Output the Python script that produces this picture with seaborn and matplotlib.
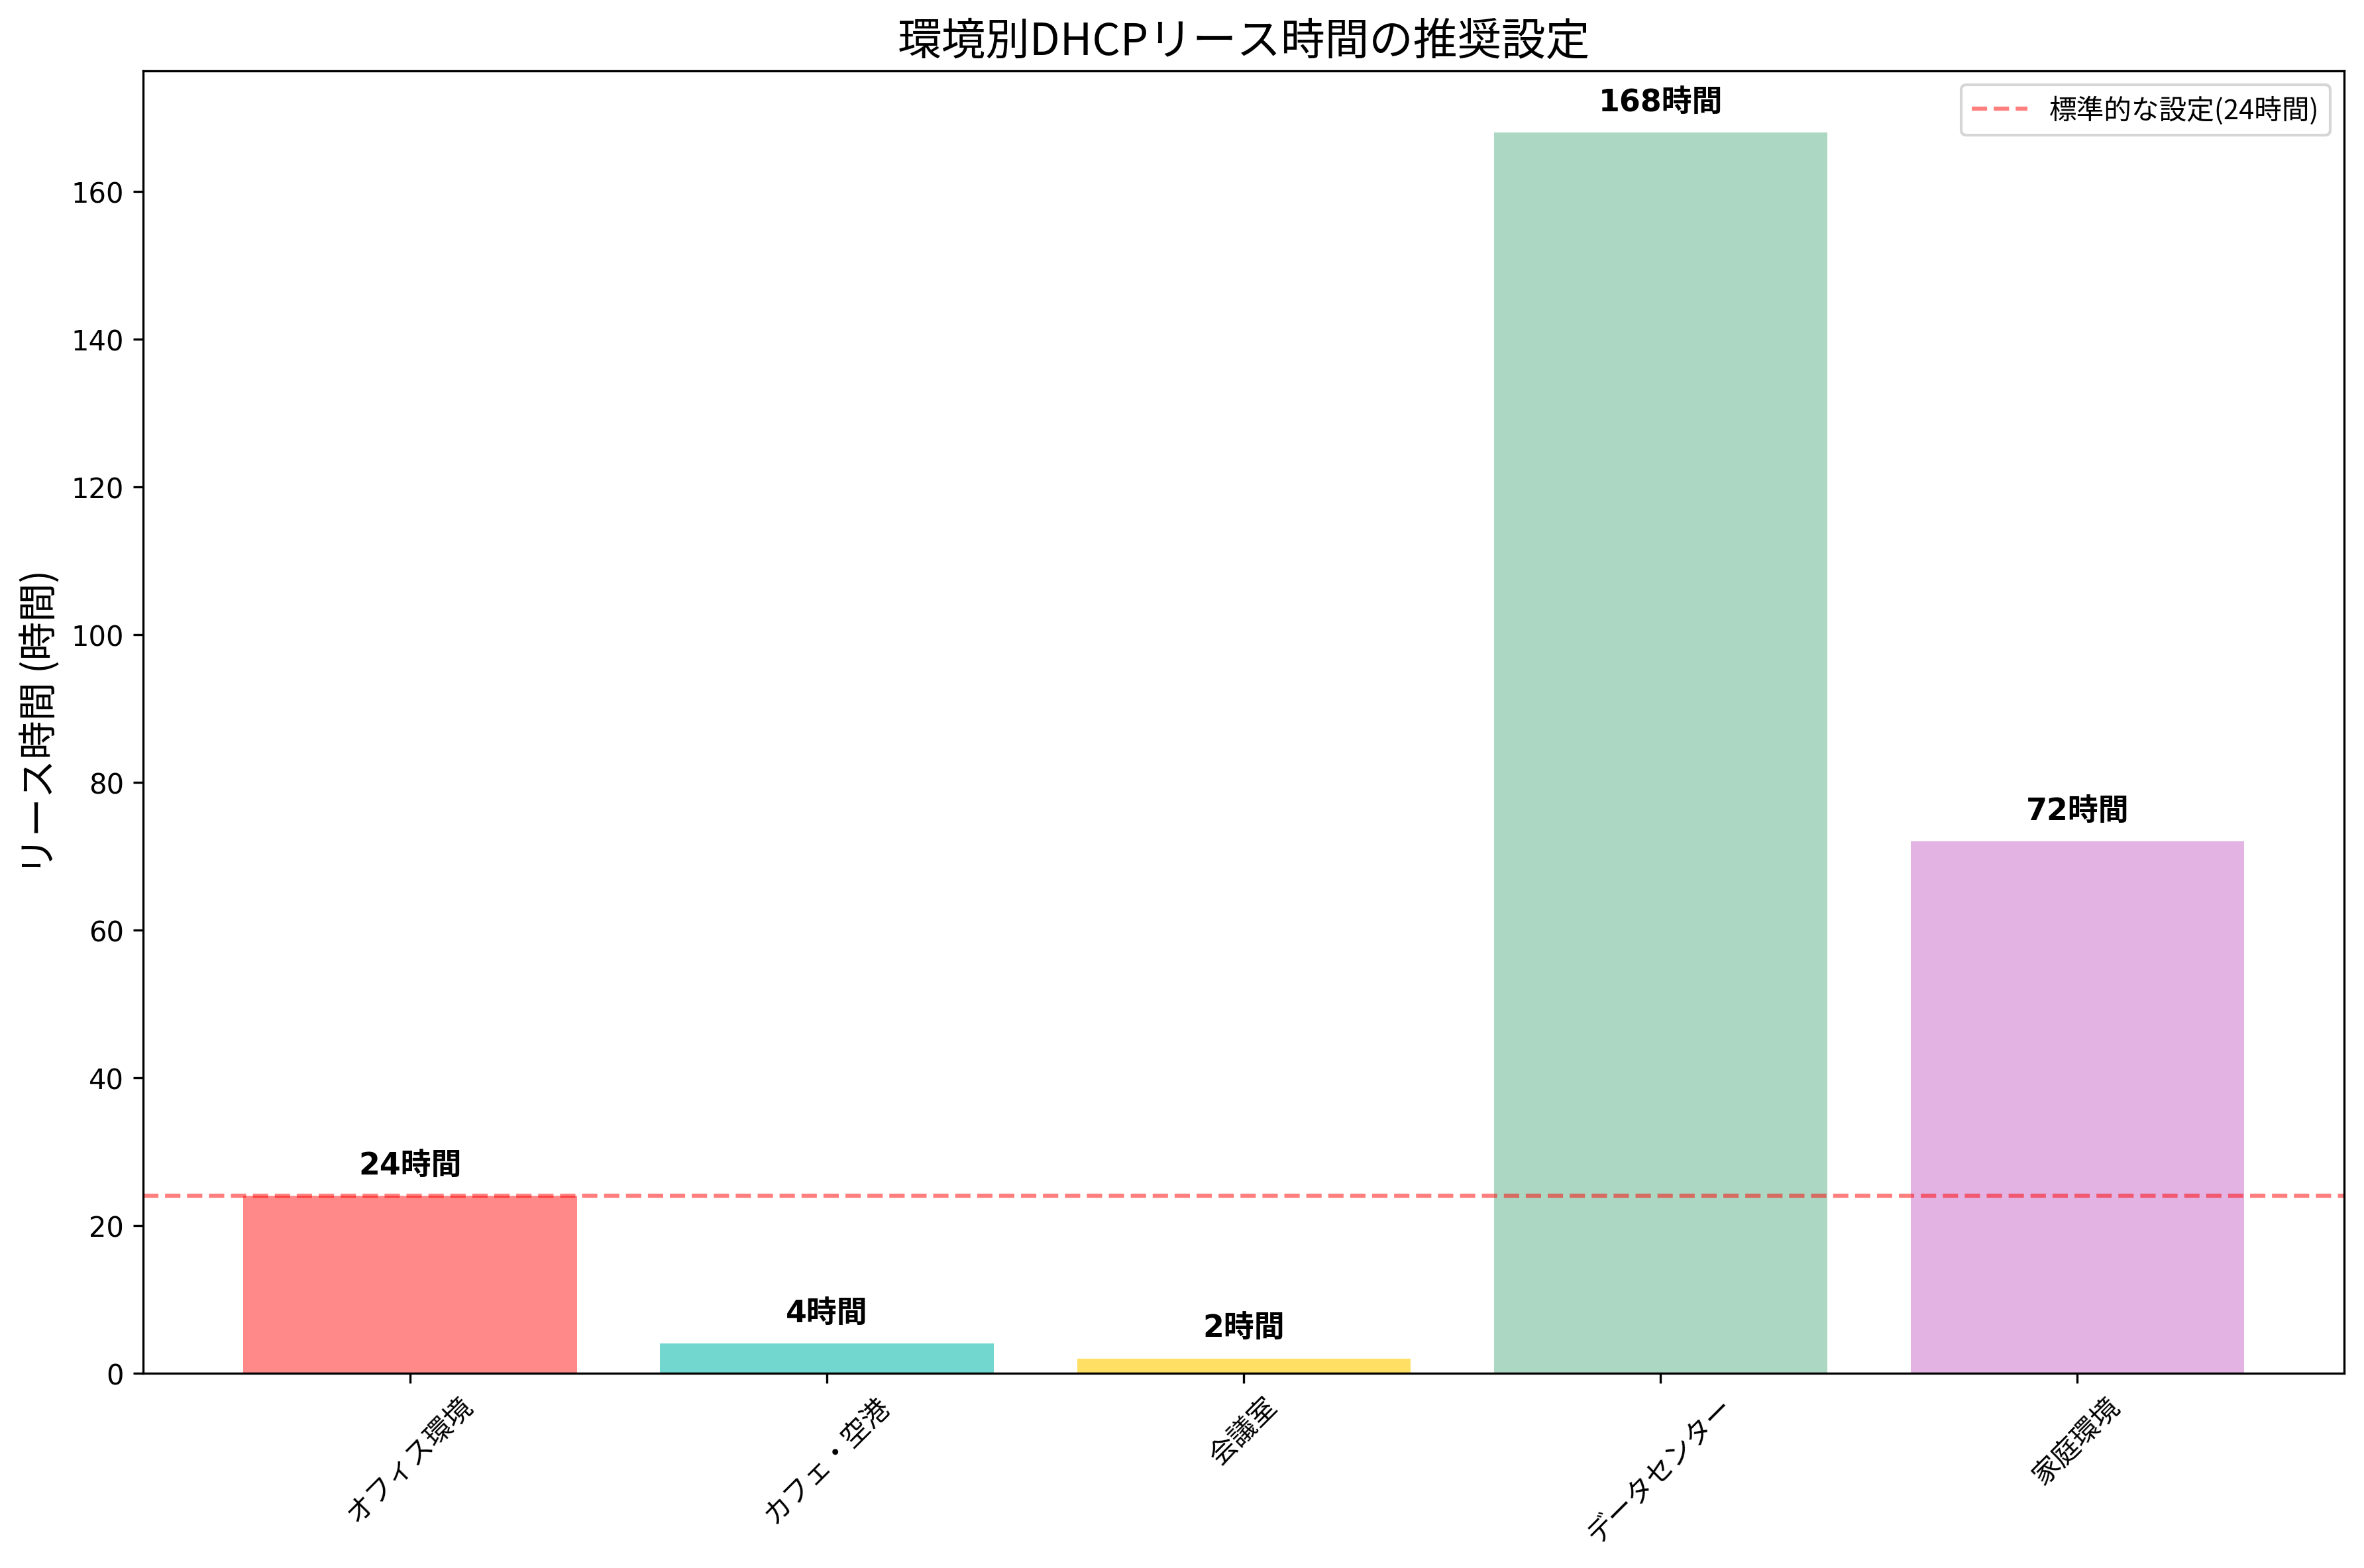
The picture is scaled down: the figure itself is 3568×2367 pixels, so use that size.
"""
環境別DHCPリース時間の推奨設定 - 棒グラフ
"""

import matplotlib
matplotlib.use('Agg')
import matplotlib.pyplot as plt
import seaborn as sns
import pandas as pd

# データ
environments = ['オフィス環境', 'カフェ・空港', '会議室', 'データセンター', '家庭環境']
lease_hours = [24, 4, 2, 168, 72]
bar_colors = ['#FF6B6B', '#4ECDC4', '#FFD93D', '#96CEB4', '#DDA0DD']
standard_hours = 24

JP = ['Noto Sans CJK JP', 'DejaVu Sans']
MIXED = ['DejaVu Sans', 'Noto Sans CJK JP']

plt.rcParams['font.family'] = MIXED

df = pd.DataFrame({'環境': environments, 'リース時間': lease_hours})

fig, ax = plt.subplots(figsize=(12, 8))

sns.barplot(data=df, x='環境', y='リース時間', hue='環境',
            palette=bar_colors, saturation=1, alpha=0.8, width=0.8,
            legend=False, ax=ax)

# 値ラベル
for i, h in enumerate(lease_hours):
    ax.text(i, h + 2, f'{h}時間', ha='center', va='bottom',
            fontsize=11, fontweight='bold', family=MIXED)

# 標準設定ライン
ax.axhline(y=standard_hours, color='red', linestyle='--', alpha=0.5,
           linewidth=1.5, label=f'標準的な設定({standard_hours}時間)')

n = len(environments)
ax.set_xlim(-0.64, n - 1 + 0.64)
ax.set_ylim(0, max(lease_hours) * 1.05)

ax.set_title('環境別DHCPリース時間の推奨設定', fontsize=16, family=JP)
ax.set_xlabel('')
ax.set_ylabel('リース時間 (時間)', fontsize=14, family=JP)
ax.tick_params(axis='x', rotation=45)
for lbl in ax.get_xticklabels():
    lbl.set_family(JP)
    lbl.set_fontsize(10)

ax.legend(loc='upper right', prop={'family': JP, 'size': 10})

plt.tight_layout()
plt.savefig('out.png', dpi=300, bbox_inches='tight', facecolor='white')
plt.close()
